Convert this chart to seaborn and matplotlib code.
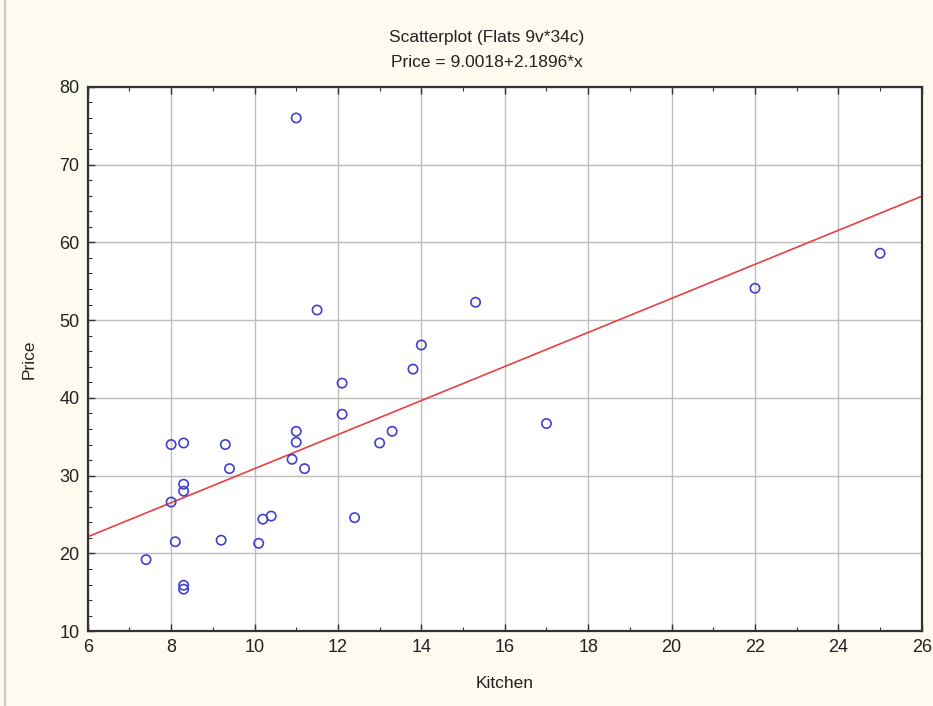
import matplotlib
matplotlib.use("Agg")
import matplotlib.pyplot as plt
from matplotlib.ticker import MultipleLocator
import seaborn as sns
import numpy as np
import pandas as pd

# Data
kitchen = [8.0, 8.3, 9.3, 9.4, 8.3, 8.3, 8.0, 8.1, 7.4, 8.3, 8.3, 9.2, 10.1, 10.2,
           10.4, 12.4, 10.9, 11.2, 11.0, 11.0, 12.1, 13.0, 13.3, 12.1, 13.8, 14.0,
           11.5, 15.3, 11.0, 17.0, 22.0, 25.0]
price = [34.0, 34.2, 34.0, 30.9, 28.9, 28.0, 26.6, 21.5, 19.2, 15.9, 15.4, 21.7, 21.3, 24.4,
         24.8, 24.6, 32.1, 30.9, 35.7, 34.3, 37.9, 34.2, 35.7, 41.9, 43.7, 46.8,
         51.3, 52.3, 76.0, 36.7, 54.1, 58.6]
intercept = 9.0018
slope = 2.1896
x_range = [6, 26]
x_ticks = [6, 8, 10, 12, 14, 16, 18, 20, 22, 24, 26]
y_ticks = [10, 20, 30, 40, 50, 60, 70, 80]

df = pd.DataFrame({"Kitchen": kitchen, "Price": price})
line_df = pd.DataFrame({"Kitchen": x_range,
                        "Price": [intercept + slope * v for v in x_range]})

sns.set_style("white")
plt.rcParams["font.family"] = ["Liberation Sans", "DejaVu Sans"]

fig = plt.figure(figsize=(9.33, 7.06), dpi=100, facecolor="#fdfaf0")
ax = fig.add_axes([0.094, 0.106, 0.894, 0.771])
ax.set_facecolor("white")

sns.scatterplot(data=df, x="Kitchen", y="Price", ax=ax, marker="o", s=45,
                facecolors="none", edgecolor="#4040cc", linewidth=1.2, zorder=3)
sns.lineplot(data=line_df, x="Kitchen", y="Price", ax=ax, color="#e84040",
             linewidth=1.2, zorder=2)

ax.set_xlim(6, 26)
ax.set_ylim(10, 80)
ax.set_xticks(x_ticks)
ax.set_yticks(y_ticks)
ax.xaxis.set_minor_locator(MultipleLocator(1))
ax.yaxis.set_minor_locator(MultipleLocator(2))
ax.grid(True, which="major", color="#bdbdbd", linewidth=1.0, zorder=0)
ax.set_axisbelow(True)
ax.tick_params(which="major", direction="in", length=5, width=1, color="#333333",
               labelsize=13, labelcolor="#222222", pad=6, top=True, right=False)
ax.tick_params(which="minor", direction="in", length=3, width=0.8, color="#333333",
               top=True, right=False)
ax.tick_params(axis="y", which="both", left=True)
ax.tick_params(axis="x", which="both", bottom=True)
for sp in ax.spines.values():
    sp.set_color("#333333")
    sp.set_linewidth(1.6)

ax.set_xlabel("Kitchen", fontsize=12.5, labelpad=14, color="#222222")
ax.set_ylabel("Price", fontsize=12.5, labelpad=16, color="#222222")
fig.text(0.522, 0.947, "Scatterplot (Flats 9v*34c)", ha="center", va="center",
         fontsize=12.5, color="#222222")
fig.text(0.522, 0.912, "Price = 9.0018+2.1896*x", ha="center", va="center",
         fontsize=12.5, color="#222222")

# thin grey border on the left edge like the reference window
fig.add_artist(plt.Line2D([0.005, 0.005], [0, 1], color="#c8c8c8", linewidth=1.5,
                          transform=fig.transFigure))

fig.savefig("out.png", dpi=100, facecolor=fig.get_facecolor())
